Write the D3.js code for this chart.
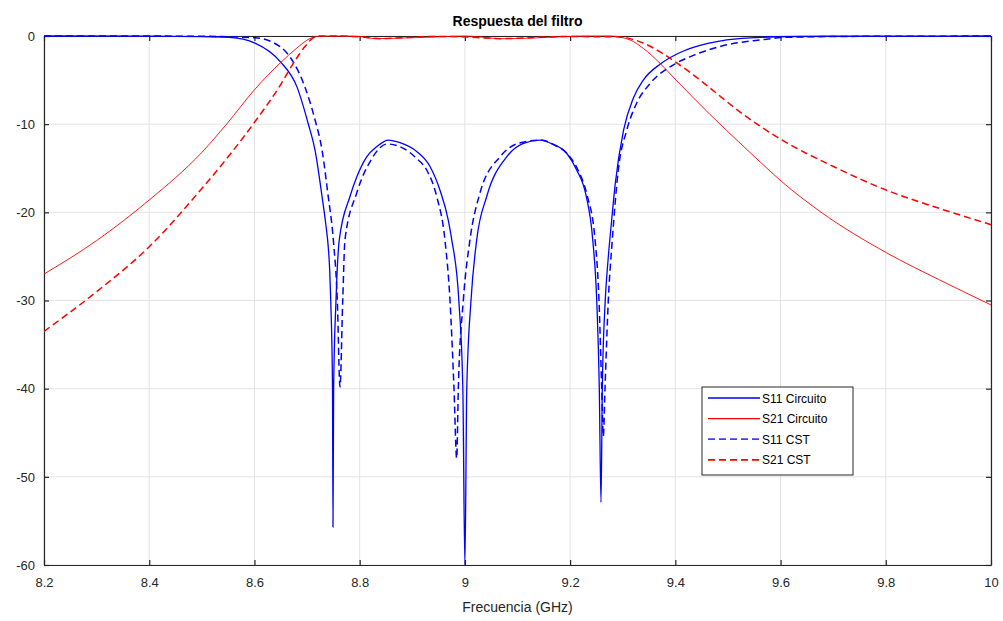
<!DOCTYPE html>
<html lang="es">
<head>
<meta charset="UTF-8">
<script src="https://d3js.org/d3.v7.min.js"></script>
<title>Respuesta del filtro</title>
<style>
  body { margin: 0; background: #fff; }
  text { font-family: "Liberation Sans", Arial, sans-serif; fill: #262626; }
</style>
</head>
<body>
<div id="chart"></div>
<script>
// values (frequency in GHz, magnitude in dB)
var s11CircF = [8.2, 8.4, 8.5, 8.553, 8.601, 8.649, 8.681, 8.702, 8.715, 8.728, 8.7355, 8.7404, 8.743, 8.745, 8.7484, 8.7493, 8.7505, 8.755, 8.7613,
  8.7816, 8.7944, 8.8134, 8.8324, 8.8544, 8.8767, 8.9084, 8.9337, 8.9527, 8.9685, 8.975, 8.9885, 8.9961, 9.0, 9.0036, 9.0116, 9.0225,
  9.0415, 9.0795, 9.11, 9.1428, 9.168, 9.1935, 9.2125, 9.230, 9.243, 9.2506, 9.2555, 9.2587, 9.2612, 9.2663, 9.2720, 9.2780,
  9.2857, 9.3015, 9.3205, 9.3391, 9.3709, 9.4013, 9.4342, 9.4977, 9.561, 9.7, 10];
var s11CircDb = [0, -0.02, -0.06, -0.15, -0.8, -2.9, -5.8, -9.9, -12.9, -18, -21.3, -24.0, -26.5, -30, -40, -55.7, -40, -30, -23.1,
  -18.2, -16.0, -13.7, -12.55, -11.8, -12.1, -13.1, -14.8, -17.5, -20.9, -23.1, -30, -40, -60, -40, -30, -23.1,
  -18.2, -13.7, -12.2, -11.8, -12.3, -13.3, -15.2, -18.0, -23.1, -30, -40, -52.9, -40, -30.5, -25.5, -21.5,
  -16.8, -10.7, -7.0, -5.0, -3.2, -2.1, -1.3, -0.45, -0.15, -0.03, 0];

var s11CstF = [8.2, 8.4, 8.5, 8.601, 8.6486, 8.6733, 8.6961, 8.7151, 8.7284, 8.7398, 8.7499, 8.7575, 8.7626, 8.7678, 8.7721,
  8.7944, 8.8253, 8.838, 8.852, 8.8767, 8.9084, 8.9274, 8.9464, 8.962, 8.9717, 8.9793, 8.9844, 8.9875, 8.997, 9.0097,
  9.0287, 9.0668, 9.10, 9.145, 9.168, 9.1935, 9.215, 9.232, 9.2474, 9.2549, 9.2601, 9.2631, 9.2663, 9.2726, 9.2802,
  9.2916, 9.3076, 9.3266, 9.3519, 9.4013, 9.4342, 9.4977, 9.561, 9.6117, 9.7, 9.8, 10];
var s11CstDb = [0, -0.01, -0.03, -0.2, -1.2, -2.9, -5.8, -9.5, -12.9, -18, -23.1, -30, -39.8, -30, -23.1,
  -17.8, -13.7, -12.7, -12.25, -12.55, -13.9, -15.2, -18.2, -23.1, -30, -40, -47.9, -40, -30, -23.1,
  -17.8, -13.7, -12.2, -11.8, -12.3, -13.3, -15.2, -18.0, -23.1, -30, -40, -45.4, -40, -30, -23.1,
  -15.2, -10.7, -7.6, -5.4, -3.1, -2.2, -1.0, -0.45, -0.15, -0.06, -0.03, -0.01];

var s21CircF = [8.2, 8.3, 8.4, 8.5, 8.547, 8.6, 8.65, 8.68, 8.705, 8.725, 8.76, 8.80, 8.83, 8.87, 8.95,
  9.0, 9.07, 9.12, 9.20, 9.24, 9.2758, 9.3139, 9.3391, 9.3709, 9.4013, 9.4342, 9.4659, 9.5292, 9.5705, 9.602,
  9.675, 9.8018, 9.9, 10];
var s21CircDb = [-27.0, -23.2, -18.6, -13.2, -10.0, -6.1, -3.0, -1.4, -0.3, -0.02, 0, -0.05, -0.3, -0.25, -0.1,
  0, -0.3, -0.25, -0.05, 0, 0, -0.45, -1.4, -3.1, -5.0, -7.0, -8.9, -12.5, -14.8, -16.5,
  -19.9, -24.6, -27.6, -30.5];

var s21CstF = [8.2, 8.3, 8.4, 8.5, 8.55, 8.6, 8.65, 8.677, 8.696, 8.711, 8.725, 8.76, 8.80, 8.84, 8.88,
  8.95, 9.0, 9.07, 9.12, 9.20, 9.25, 9.285, 9.3139, 9.3391, 9.3709, 9.4013, 9.4342, 9.4659, 9.5292, 9.6,
  9.7003, 9.8018, 9.9094, 10];
var s21CstDb = [-33.5, -29.0, -23.9, -17.3, -13.7, -9.8, -5.5, -2.8, -1.2, -0.25, 0, 0, -0.1, -0.3, -0.2,
  -0.05, -0.1, -0.3, -0.2, -0.05, -0.08, -0.08, -0.3, -0.8, -1.8, -3.0, -4.4, -5.9, -8.9, -11.7,
  -14.8, -17.5, -19.7, -21.4];

var xTicks = [8.2, 8.4, 8.6, 8.8, 9, 9.2, 9.4, 9.6, 9.8, 10];
var yTicks = [0, -10, -20, -30, -40, -50, -60];
var legendNames = ["S11 Circuito", "S21 Circuito", "S11 CST", "S21 CST"];

var width = 1003, height = 621;
// plot box ("top" is taken by window.top, so other names)
var plotL = 44, plotR = 991, plotT = 36, plotB = 565;

var svg = d3.select("#chart").append("svg")
  .attr("width", width).attr("height", height);

var x = d3.scaleLinear().domain([8.2, 10]).range([plotL, plotR]);
var y = d3.scaleLinear().domain([-60, 0]).range([plotB, plotT]);

// grid
svg.append("g").selectAll("line").data(xTicks).join("line")
  .attr("x1", d => x(d)).attr("x2", d => x(d)).attr("y1", plotT).attr("y2", plotB)
  .attr("stroke", "#e3e3e3").attr("stroke-width", 1);
svg.append("g").selectAll("line").data(yTicks).join("line")
  .attr("x1", plotL).attr("x2", plotR).attr("y1", d => y(d)).attr("y2", d => y(d))
  .attr("stroke", "#e3e3e3").attr("stroke-width", 1);

// curves
svg.append("clipPath").attr("id", "clip").append("rect")
  .attr("x", plotL).attr("y", plotT - 2).attr("width", plotR - plotL).attr("height", plotB - plotT + 2);

var line = d3.line()
  .x(d => x(d[0])).y(d => y(d[1]))
  .curve(d3.curveMonotoneX);

var series = [
  { f: s11CircF, db: s11CircDb, color: "#0000ff", w: 1.3, dash: null },
  { f: s21CircF, db: s21CircDb, color: "#ff0000", w: 0.9, dash: null },
  { f: s11CstF, db: s11CstDb, color: "#0000ff", w: 1.5, dash: "7,4" },
  { f: s21CstF, db: s21CstDb, color: "#ff0000", w: 1.5, dash: "7,4" }
];

// axes (MATLAB style box with inward ticks)
var axisColor = "#262626";
var gx = svg.append("g").attr("transform", "translate(0," + plotB + ")")
  .call(d3.axisBottom(x).tickValues(xTicks).tickFormat(d => String(d))
    .tickSizeInner(-5).tickSizeOuter(0).tickPadding(10));
var gy = svg.append("g").attr("transform", "translate(" + plotL + ",0)")
  .call(d3.axisLeft(y).tickValues(yTicks).tickFormat(d => String(d))
    .tickSizeInner(-5).tickSizeOuter(0).tickPadding(9));
var gt = svg.append("g").attr("transform", "translate(0," + plotT + ")")
  .call(d3.axisTop(x).tickValues(xTicks).tickFormat("").tickSizeInner(-5).tickSizeOuter(0));
var gr = svg.append("g").attr("transform", "translate(" + plotR + ",0)")
  .call(d3.axisRight(y).tickValues(yTicks).tickFormat("").tickSizeInner(-5).tickSizeOuter(0));

[gx, gy, gt, gr].forEach(function (g) {
  g.select(".domain").attr("stroke", axisColor).attr("stroke-width", 1.2);
  g.selectAll(".tick line").attr("stroke", axisColor).attr("stroke-width", 1.2);
  g.selectAll(".tick text").attr("font-size", 13).attr("fill", axisColor)
    .attr("font-family", "Liberation Sans, Arial, sans-serif");
});
gx.selectAll(".tick text").attr("dy", "0.95em");

// lines go on top of the box, as in the reference
var plot = svg.append("g").attr("clip-path", "url(#clip)");
series.forEach(function (s) {
  var pts = s.f.map((f, i) => [f, s.db[i]]);
  plot.append("path")
    .attr("d", line(pts))
    .attr("fill", "none")
    .attr("stroke", s.color)
    .attr("stroke-width", s.w)
    .attr("stroke-dasharray", s.dash);
});

// title and label
svg.append("text")
  .attr("x", (plotL + plotR) / 2).attr("y", 26)
  .attr("text-anchor", "middle").attr("font-size", 14).attr("font-weight", "bold")
  .style("fill", "#000")
  .text("Respuesta del filtro");

svg.append("text")
  .attr("x", (plotL + plotR) / 2).attr("y", 612)
  .attr("text-anchor", "middle").attr("font-size", 14)
  .text("Frecuencia (GHz)");

// legend
var lg = svg.append("g").attr("transform", "translate(702,387)");
lg.append("rect").attr("width", 151).attr("height", 88)
  .attr("fill", "#fff").attr("stroke", axisColor).attr("stroke-width", 1);
legendNames.forEach(function (name, i) {
  var s = series[i];
  var yy = 11 + i * 20.6;
  lg.append("line")
    .attr("x1", 6).attr("x2", 58).attr("y1", yy).attr("y2", yy)
    .attr("stroke", s.color).attr("stroke-width", i == 0 ? 2 : s.w + 0.2)
    .attr("stroke-dasharray", s.dash).attr("opacity", i % 2 == 0 ? 0.75 : 1);
  lg.append("text")
    .attr("x", 60).attr("y", yy + 4.5)
    .attr("font-size", 12).style("fill", "#000")
    .text(name);
});
</script>
</body>
</html>
